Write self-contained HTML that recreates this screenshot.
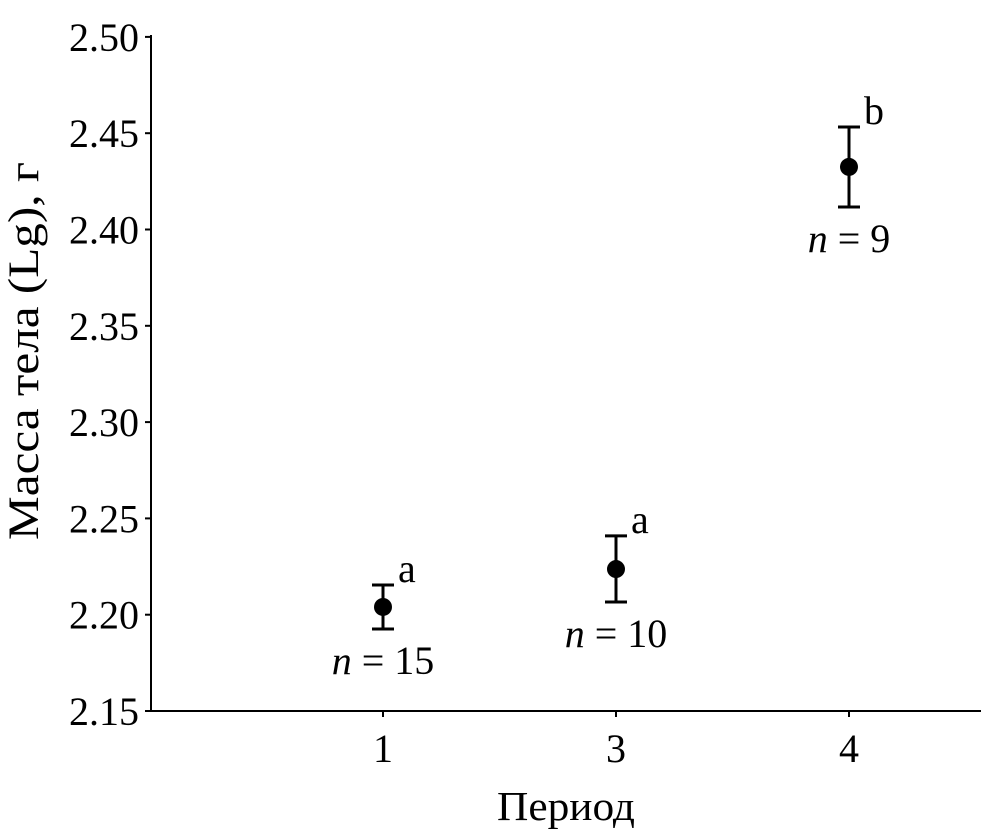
<!DOCTYPE html>
<html><head><meta charset="utf-8"><style>
html,body{margin:0;padding:0;background:#fff;}
svg{display:block;font-family:"Liberation Serif",serif;}
</style></head><body>
<svg id="chart" width="981" height="832" viewBox="0 0 981 832">
<g id="axes"></g><g id="marks"></g>
<text x="38" y="351" font-size="43" text-anchor="middle" textLength="378" lengthAdjust="spacingAndGlyphs" transform="rotate(-90 38 351)">Масса тела (Lg), г</text>
<text x="566" y="820" font-size="41" text-anchor="middle" textLength="138" lengthAdjust="spacingAndGlyphs">Период</text>
</svg>
<script>
const categories = ["1","3","4"];
const means = [2.204, 2.2237, 2.4325];
const upper = [2.2154, 2.2409, 2.4532];
const lower = [2.1926, 2.2066, 2.4117];
const groupLetters = ["a","a","b"];
const sampleSizes = [15, 10, 9];
const yTicks = [2.15,2.20,2.25,2.30,2.35,2.40,2.45,2.50];

const NS="http://www.w3.org/2000/svg";
const y = v => 711 - (v-2.15)/0.05*96.3;
const x = i => 383 + i*233;
function mk(tag, attrs, parent, text){
  const e=document.createElementNS(NS,tag);
  for(const k in attrs) e.setAttribute(k,attrs[k]);
  if(text!==undefined) e.textContent=text;
  parent.appendChild(e); return e;
}
const axes=document.getElementById('axes'), marks=document.getElementById('marks');
let e=mk('line',{x1:151,y1:35,x2:151,y2:712,stroke:'#000','stroke-width':2},axes);


e=mk('line',{x1:150,y1:711,x2:981,y2:711,stroke:'#000','stroke-width':2},axes);


yTicks.forEach(v=>{
  const t=mk('line',{x1:145,y1:y(v),x2:151,y2:y(v),stroke:'#000','stroke-width':2},axes);
  
  
  const l=mk('text',{x:139,y:y(v)+14,'font-size':40,'text-anchor':'end'},axes,v.toFixed(2));
  
  
});
categories.forEach((c,i)=>{
  const t=mk('line',{x1:x(i),y1:711,x2:x(i),y2:717,stroke:'#000','stroke-width':2},axes);
  
  
  const l=mk('text',{x:x(i),y:762,'font-size':40,'text-anchor':'middle'},axes,c);
  
  
  const g=mk('g',{},marks);
  
  
  mk('line',{x1:x(i),y1:y(upper[i]),x2:x(i),y2:y(lower[i]),stroke:'#000','stroke-width':3},g);
  mk('line',{x1:x(i)-11,y1:y(upper[i]),x2:x(i)+11,y2:y(upper[i]),stroke:'#000','stroke-width':3},g);
  mk('line',{x1:x(i)-11,y1:y(lower[i]),x2:x(i)+11,y2:y(lower[i]),stroke:'#000','stroke-width':3},g);
  const p=mk('circle',{cx:x(i),cy:y(means[i]),r:9,fill:'#000'},marks);
  
  
  const gl=mk('text',{x:x(i)+15,y:y(upper[i])-3,'font-size':40},marks,groupLetters[i]);
  
  
  const n=mk('text',{x:x(i),y:y(lower[i])+45,'font-size':40,'text-anchor':'middle'},marks);
  
  
  mk('tspan',{'font-style':'italic'},n,'n');
  mk('tspan',{},n,' = '+sampleSizes[i]);
});
</script>
</body></html>
